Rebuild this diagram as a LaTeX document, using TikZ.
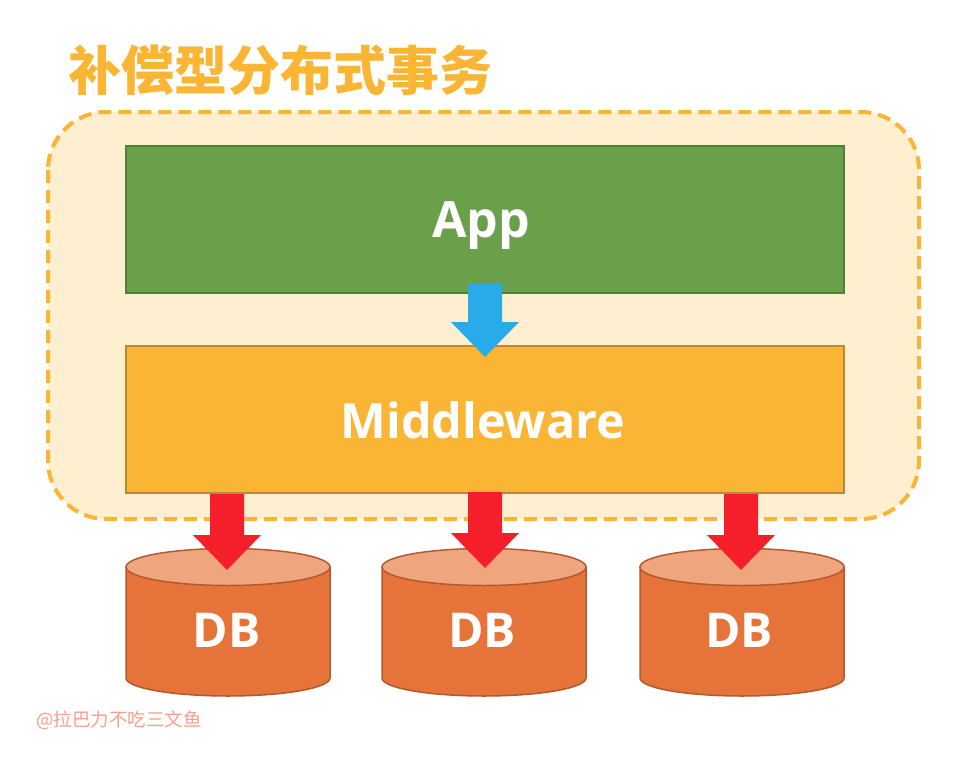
\documentclass[tikz,border=0pt]{standalone}
\usepackage{fontspec}
\setmainfont{Open Sans}
\newfontfamily\cjk{Noto Sans CJK SC}
\definecolor{orangeT}{HTML}{FBB535}
\definecolor{paneF}{HTML}{FDEFCF}
\definecolor{greenF}{HTML}{69A049}
\definecolor{greenD}{HTML}{4F7F38}
\definecolor{midD}{HTML}{B98A30}
\definecolor{dbF}{HTML}{E6733A}
\definecolor{dbT}{HTML}{EFA67F}
\definecolor{dbD}{HTML}{B45A2C}
\definecolor{blueA}{HTML}{29ABE9}
\definecolor{redA}{HTML}{F41F2A}
\definecolor{wm}{HTML}{F9A08C}
\tikzset{
 px/.style={x=1pt,y=-1pt},
 layerbox/.style={draw,line width=1.5pt,minimum width=718pt,minimum height=147pt,inner sep=0pt,text=white},
 dbbody/.style={draw=dbD,line width=1.5pt,fill=dbF},
 dbtop/.style={draw=dbD,line width=1.5pt,fill=dbT},
 dblabel/.style={text=white,font=\fontsize{48}{50}\selectfont\bfseries,inner sep=0pt},
}
\newcommand{\dbcyl}[3]{%
 \draw[dbbody] (#1-102,567) -- (#1-102,678) arc[start angle=180,end angle=0,x radius=102,y radius=18] -- (#1+102,567) -- cycle;
 \draw[dbtop] (#1,567) ellipse[x radius=102,y radius=18.5];
 \node[dblabel] (#2) at (#3,630) {DB};
}
\newcommand{\blockdown}[4]{%
 \fill[#4] (#1-17,#2) -- (#1+17,#2) -- (#1+17,#3-35) -- (#1+34,#3-35) -- (#1,#3) -- (#1-34,#3-35) -- (#1-17,#3-35) -- cycle;
}
\begin{document}
\begin{tikzpicture}[px]
\useasboundingbox (0,0) rectangle (974,779);
\fill[white] (0,0) rectangle (974,779);
\node[inner sep=0pt,anchor=west,text=orangeT,font=\cjk\fontsize{53}{56}\selectfont\bfseries] (title) at (68,70) {补偿型分布式事务};
\draw[draw=orangeT,fill=paneF,line width=4pt,dash pattern=on 13pt off 7pt,rounded corners=58pt] (48,112) rectangle (919,519);
\node[layerbox,draw=greenD,fill=greenF] (app) at (485,219.5) {};
\node[text=white,inner sep=0pt,font=\fontsize{50}{52}\selectfont\bfseries] (applabel) at (481,226) {App};
\node[layerbox,draw=midD,fill=orangeT] (mid) at (485,419.5) {};
\node[text=white,inner sep=0pt,font=\fontsize{48.5}{52}\selectfont\bfseries] (midlabel) at (483,420) {Middleware};
\dbcyl{228}{dba}{226.5}
\dbcyl{484}{dbb}{482}
\dbcyl{742}{dbc}{739}
\blockdown{485}{283}{357}{blueA}
\blockdown{227}{494}{570}{redA}
\blockdown{485}{492}{568}{redA}
\blockdown{741}{494}{570}{redA}
\node[inner sep=0pt,anchor=west,text=wm,font=\cjk\fontsize{18.5}{20}\selectfont] (mark) at (36,720) {@拉巴力不吃三文鱼};
\end{tikzpicture}
\end{document}
